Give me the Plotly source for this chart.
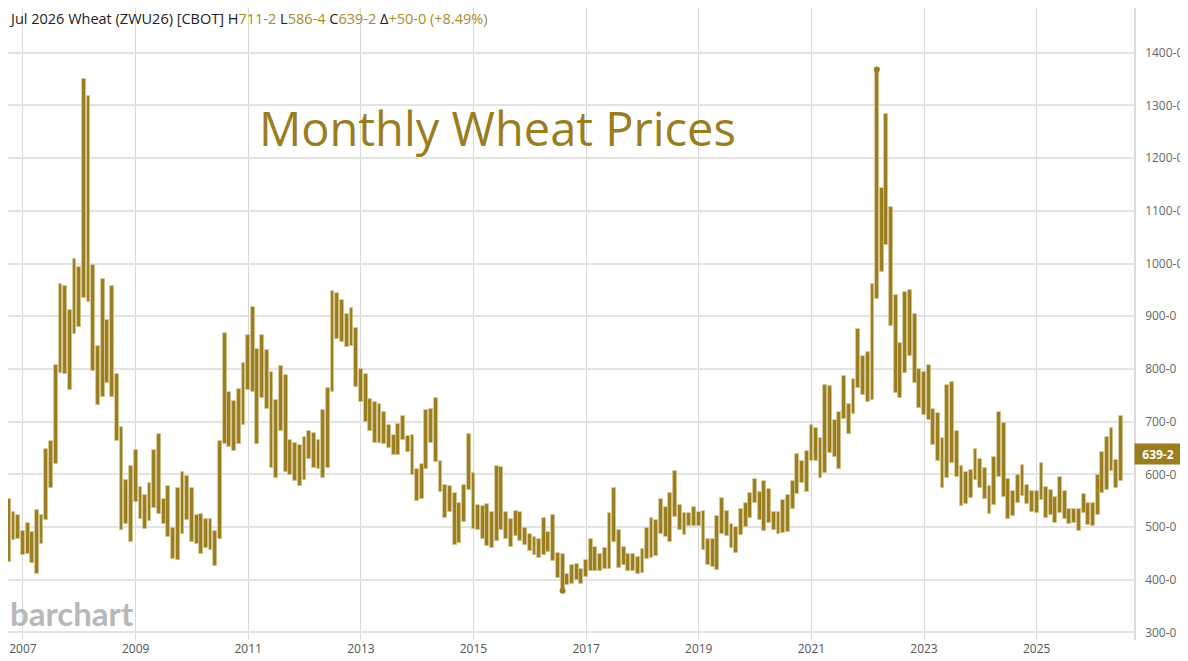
import pandas as pd
import plotly.graph_objects as go

# monthly high / low in cents, first bar Oct 2006, last bar Jul 2026
first_month = "2006-10-01"

highs = [
    554, 528, 523,
    492, 507, 490, 533, 523, 649, 663, 807, 962, 958, 911, 1009,
    993, 1350, 1318, 998, 844, 971, 892, 957, 791, 689, 589, 615,
    646, 576, 561, 583, 646, 676, 553, 577, 499, 574, 605, 596,
    574, 523, 524, 515, 516, 492, 663, 868, 757, 740, 761, 812,
    864, 917, 838, 865, 835, 794, 741, 806, 789, 665, 660, 656,
    671, 683, 678, 666, 722, 764, 947, 945, 930, 904, 916, 877,
    800, 790, 742, 737, 734, 719, 693, 675, 695, 711, 672, 674,
    611, 619, 723, 724, 744, 626, 580, 578, 565, 545, 580, 677,
    602, 542, 540, 543, 529, 616, 613, 528, 515, 530, 529, 499,
    487, 482, 478, 518, 491, 523, 450, 448, 410, 428, 430, 420,
    437, 477, 462, 449, 461, 526, 574, 495, 462, 449, 449, 443,
    458, 498, 518, 514, 553, 538, 564, 607, 541, 526, 526, 538,
    528, 531, 477, 477, 520, 556, 531, 505, 500, 534, 545, 564,
    592, 567, 587, 572, 528, 529, 552, 560, 587, 639, 626, 644,
    693, 688, 669, 769, 767, 704, 718, 786, 734, 780, 875, 824,
    832, 961, 1368, 1143, 1284, 1108, 941, 849, 946, 950, 904, 800,
    794, 808, 724, 717, 669, 770, 776, 683, 615, 604, 608, 649,
    629, 612, 577, 633, 719, 697, 592, 568, 598, 617, 579, 569,
    569, 622, 576, 571, 557, 595, 569, 535, 535, 535, 563, 545,
    545, 598, 642, 671, 688, 627, 711.25,
]

lows = [
    434, 475, 477,
    447, 448, 431, 411, 468, 513, 574, 620, 793, 790, 760, 867,
    879, 934, 927, 797, 731, 746, 774, 746, 663, 495, 505, 471,
    547, 515, 497, 511, 536, 524, 505, 481, 439, 437, 487, 513,
    472, 468, 449, 461, 456, 426, 477, 658, 652, 644, 657, 693,
    760, 757, 657, 745, 724, 612, 593, 682, 605, 598, 587, 578,
    590, 630, 612, 611, 593, 612, 757, 857, 851, 842, 843, 766,
    737, 700, 682, 660, 660, 657, 650, 637, 637, 665, 643, 599,
    550, 553, 610, 659, 624, 567, 518, 529, 465, 469, 510, 570,
    496, 494, 477, 464, 461, 474, 494, 477, 463, 483, 473, 466,
    455, 446, 442, 446, 453, 435, 403, 379, 390, 391, 399, 392,
    405, 416, 417, 417, 421, 421, 471, 422, 428, 417, 416, 411,
    413, 439, 441, 445, 486, 481, 471, 519, 495, 485, 502, 501,
    501, 457, 427, 424, 419, 487, 483, 460, 450, 485, 500, 517,
    545, 514, 492, 507, 495, 487, 489, 491, 534, 562, 584, 567,
    625, 626, 593, 603, 641, 633, 610, 705, 677, 715, 764, 751,
    737, 741, 933, 984, 1036, 882, 755, 745, 792, 824, 773, 725,
    713, 704, 655, 625, 574, 593, 622, 595, 540, 543, 556, 590,
    574, 554, 524, 541, 595, 557, 516, 521, 546, 559, 543, 529,
    527, 551, 518, 522, 507, 527, 516, 505, 507, 493, 527, 504,
    502, 523, 565, 571, 606, 574, 586.5,
]

last_close = 639.25
price_ticks = [300, 400, 500, 600, 700, 800, 900, 1000, 1100, 1200, 1300, 1400]

gold = "#9a7d1e"

months = pd.date_range(first_month, periods=len(highs), freq="MS")
df = pd.DataFrame({"date": months, "high": highs, "low": lows})
df["span"] = df["high"] - df["low"]


def to_eighths(v):
    whole = int(v)
    frac = int(round((v - whole) * 8))
    return f"{whole}-{frac}"


fig = go.Figure()

fig.add_trace(go.Bar(
    x=df["date"], y=df["span"], base=df["low"],
    width=25 * 24 * 3600 * 1000,
    marker=dict(color=gold, line=dict(color="rgba(214,200,150,0.9)", width=0.8)),
    hoverinfo="skip",
))

# little caps on the highest high and lowest low
hi = df.loc[df["high"].idxmax()]
lo = df.loc[df["low"].idxmin()]
fig.add_trace(go.Scatter(
    x=[hi["date"], lo["date"]], y=[hi["high"], lo["low"]],
    mode="markers", marker=dict(color=gold, size=6),
    hoverinfo="skip",
))

val = "<span style='color:#a88c2c'>%s</span>"
header = (
    "Jul 2026 Wheat (ZWU26) [CBOT] "
    "H" + val % to_eighths(highs[-1]) + " "
    "L" + val % to_eighths(lows[-1]) + " "
    "C" + val % to_eighths(last_close) + " "
    "Δ" + val % "+50-0 (+8.49%)"
)

fig.add_annotation(
    text=header, xref="paper", yref="paper", x=0, y=1,
    xanchor="left", yanchor="top", xshift=0, yshift=0, borderpad=0,
    showarrow=False,
    font=dict(family="Open Sans", size=14.5, color="#222"),
)
fig.add_annotation(
    text="Monthly Wheat Prices", xref="paper", yref="paper", x=0.4347, y=0.810,
    xanchor="center", yanchor="middle", showarrow=False,
    font=dict(family="Open Sans", size=47, color=gold),
)
fig.add_annotation(
    text="<b>barchart</b>", xref="paper", yref="paper", x=0, y=0,
    xanchor="left", yanchor="bottom", xshift=0, yshift=5, showarrow=False,
    font=dict(family="Lato", size=33, color="#b8b8b8"),
)
fig.add_annotation(
    text=f"<b>{to_eighths(last_close)}</b>", xref="paper", yref="y",
    x=1, y=last_close, xanchor="left", yanchor="middle", showarrow=False,
    bgcolor=gold, width=42, height=16, borderpad=2,
    font=dict(family="Open Sans", size=12, color="white"),
)

fig.update_layout(
    width=1180, height=653,
    margin=dict(l=0, r=54, t=0, b=21),
    plot_bgcolor="white", paper_bgcolor="white",
    showlegend=False, bargap=0,
    font=dict(family="Open Sans", size=12, color="#555"),
    xaxis=dict(
        type="date", range=["2006-09-26", "2026-09-24"],
        tick0="2007-01-01", dtick="M24", tickformat="%Y",
        showgrid=True, gridcolor="#d9d9d9", gridwidth=1,
        zeroline=False, showline=False, ticks="",
        tickfont=dict(size=12, color="#555"),
    ),
    yaxis=dict(
        side="right", range=[285.6, 1484.9],
        tickvals=price_ticks, ticktext=[f"{v}-0" for v in price_ticks],
        showgrid=True, gridcolor="#e3e3e3", gridwidth=1.6,
        zeroline=False, showline=True, linecolor="#dcdcdc", linewidth=1.5,
        ticks="outside", ticklen=7, tickcolor="rgba(0,0,0,0)",
        tickfont=dict(size=12, color="#666"),
    ),
)

fig.write_html("out.html")
